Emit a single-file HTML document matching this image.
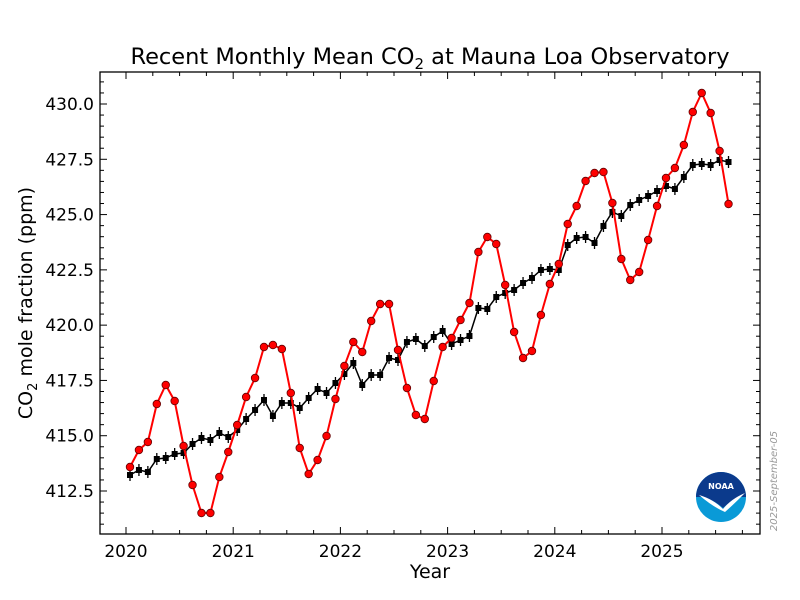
<!DOCTYPE html>
<html><head><meta charset="utf-8"><style>
html,body{margin:0;padding:0;background:#fff;}
svg{display:block;font-family:"DejaVu Sans","Liberation Sans",sans-serif;}
</style></head><body>
<svg id="s" width="800" height="600" viewBox="0 0 800 600" xmlns="http://www.w3.org/2000/svg">
<rect width="800" height="600" fill="#fff"/>
<text x="430" y="64" font-size="22.5" text-anchor="middle">Recent Monthly Mean CO<tspan font-size="15" dy="5">2</tspan><tspan dy="-5"> at Mauna Loa Observatory</tspan></text>
<text x="430" y="578" font-size="19" text-anchor="middle">Year</text>
<text transform="translate(32,303) rotate(-90)" font-size="19" text-anchor="middle">CO<tspan font-size="13" dy="5">2</tspan><tspan dy="-5"> mole fraction (ppm)</tspan></text>
<text transform="translate(777,481) rotate(-90)" font-size="10" fill="#999" font-style="italic" text-anchor="middle">2025-September-05</text>
<g id="ax"></g>
<g id="data"></g>
<g transform="translate(721,497)">
<circle r="25" fill="#0a9ad7"/>
<path d="M-25,0 A25,25 0 0 1 25,0 L20,0 Q8,5 2,11 Q-8,2 -20,0 Z" fill="#0b3a8c"/>
<path d="M-22,-2 Q-8,2 2,12 Q10,2 24,-4 Q12,8 4,15 Q-8,10 -22,-2 Z" fill="#fff"/>
<text x="0" y="-8" font-size="8" font-weight="bold" fill="#fff" text-anchor="middle">NOAA</text>
</g>
<rect x="100" y="72" width="660" height="462" fill="none" stroke="#000" stroke-width="1.3"/>
</svg>
<script>
var NS="http://www.w3.org/2000/svg";
function el(p,t,a,txt){var e=document.createElementNS(NS,t);for(var k in a)e.setAttribute(k,a[k]);if(txt!==undefined)e.textContent=txt;p.appendChild(e);return e;}
var ax=document.getElementById('ax'),dg=document.getElementById('data');
function Y(v){return 491-(v-412.5)*22.114;}
for(var q=0;q<24;q++){var x=126+26.8*q; if(x>760)break; var L=(q%4==0)?7:4;
 el(ax,'line',{x1:x,y1:534,x2:x,y2:534-L,stroke:'#000'});el(ax,'line',{x1:x,y1:72,x2:x,y2:72+L,stroke:'#000'});
 if(q%4==0)el(ax,'text',{x:x,y:557,'font-size':17,'text-anchor':'middle'},String(2020+q/4));}
for(var v=411;v<=431.01;v+=0.5){var y=Y(v); if(y<72||y>534)continue; var maj=Math.abs((v*2)%5)<0.01; var L=maj?7:4;
 el(ax,'line',{x1:100,y1:y,x2:100+L,y2:y,stroke:'#000'});el(ax,'line',{x1:760,y1:y,x2:760-L,y2:y,stroke:'#000'});
 if(maj)el(ax,'text',{x:94,y:y+6,'font-size':17,'text-anchor':'end'},v.toFixed(1));}
var red=[467,450,442,404,385,401,446,485,513,513,477,452,425,397,378,347,345,349,393,448,474,460,436,399,366,342,352,321,304,304,350,388,415,419,381,347,338,320,303,252,237,244,285,332,358,351,315,284,264,224,206,181,173,172,203,259,280,272,240,206,178,168,145,112,93,113,151,204];
var blk=[475,470,472,459,458,454,453,444,438,440,433,437,430,419,410,400,416,403,403,408,398,389,393,383,374,363,385,375,375,358,360,342,339,346,337,331,344,340,336,308,309,297,293,290,283,278,270,269,270,245,238,237,243,226,212,216,205,200,196,191,186,189,177,165,164,165,160,162];
function px(i){return 130+8.933*i;}
var p1=blk.map(function(y,i){return px(i)+','+y}).join(' ');
el(dg,'polyline',{points:p1,fill:'none',stroke:'#000','stroke-width':1.5});
blk.forEach(function(y,i){var x=px(i);el(dg,'line',{x1:x,y1:y-6,x2:x,y2:y+6,stroke:'#000','stroke-width':1.3});el(dg,'rect',{x:x-3,y:y-3,width:6,height:6,fill:'#000'});});
var p2=red.map(function(y,i){return px(i)+','+y}).join(' ');
el(dg,'polyline',{points:p2,fill:'none',stroke:'#f00','stroke-width':2});
red.forEach(function(y,i){el(dg,'circle',{cx:px(i),cy:y,r:3.8,fill:'#f00',stroke:'#600','stroke-width':0.8});});
</script>
</body></html>
